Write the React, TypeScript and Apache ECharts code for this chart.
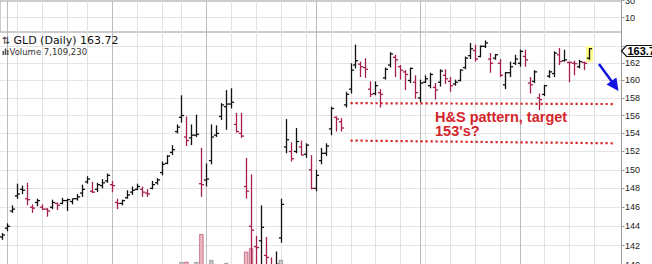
import React, { useEffect, useRef } from "react";
import * as echarts from "echarts";

// Trading days shown (31 Dec 2019 .. last bar 19 Jun 2020, plus empty future slots)
const categories = [
  "2019-12-31",
  "2020-01-02", "2020-01-03", "2020-01-06", "2020-01-07", "2020-01-08", "2020-01-09", "2020-01-10",
  "2020-01-13", "2020-01-14", "2020-01-15", "2020-01-16", "2020-01-17", "2020-01-21", "2020-01-22",
  "2020-01-23", "2020-01-24", "2020-01-27", "2020-01-28", "2020-01-29", "2020-01-30", "2020-01-31",
  "2020-02-03", "2020-02-04", "2020-02-05", "2020-02-06", "2020-02-07", "2020-02-10", "2020-02-11",
  "2020-02-12", "2020-02-13", "2020-02-14", "2020-02-18", "2020-02-19", "2020-02-20", "2020-02-21",
  "2020-02-24", "2020-02-25", "2020-02-26", "2020-02-27", "2020-02-28",
  "2020-03-02", "2020-03-03", "2020-03-04", "2020-03-05", "2020-03-06", "2020-03-09", "2020-03-10",
  "2020-03-11", "2020-03-12", "2020-03-13", "2020-03-16", "2020-03-17", "2020-03-18", "2020-03-19",
  "2020-03-20", "2020-03-23", "2020-03-24", "2020-03-25", "2020-03-26", "2020-03-27", "2020-03-30",
  "2020-03-31",
  "2020-04-01", "2020-04-02", "2020-04-03", "2020-04-06", "2020-04-07", "2020-04-08", "2020-04-09",
  "2020-04-13", "2020-04-14", "2020-04-15", "2020-04-16", "2020-04-17", "2020-04-20", "2020-04-21",
  "2020-04-22", "2020-04-23", "2020-04-24", "2020-04-27", "2020-04-28", "2020-04-29", "2020-04-30",
  "2020-05-01", "2020-05-04", "2020-05-05", "2020-05-06", "2020-05-07", "2020-05-08", "2020-05-11",
  "2020-05-12", "2020-05-13", "2020-05-14", "2020-05-15", "2020-05-18", "2020-05-19", "2020-05-20",
  "2020-05-21", "2020-05-22", "2020-05-26", "2020-05-27", "2020-05-28", "2020-05-29",
  "2020-06-01", "2020-06-02", "2020-06-03", "2020-06-04", "2020-06-05", "2020-06-08", "2020-06-09",
  "2020-06-10", "2020-06-11", "2020-06-12", "2020-06-15", "2020-06-16", "2020-06-17", "2020-06-18",
  "2020-06-19",
  "2020-06-22", "2020-06-23", "2020-06-24", "2020-06-25", "2020-06-26", "2020-06-29",
];

const opens = [
  142.9, 143.8, 145.6, 147.2, 147.9, 146.9, 146.0, 146.5, 146.0, 145.8,
  146.0, 146.4, 146.4, 146.7, 146.6, 146.9, 147.5, 148.7, 147.7, 147.9,
  148.3, 148.8, 148.4, 146.5, 146.4, 147.0, 147.6, 147.9, 147.9, 147.5,
  148.0, 148.6, 149.7, 150.7, 151.9, 154.2, 155.8, 153.6, 153.5, 153.8,
  148.5, 148.9, 151.0, 153.8, 155.9, 157.0, 157.3, 155.0, 154.0, 148.2,
  144.0, 141.9, 142.5, 141.0, 139.7, 139.2, 142.8, 152.5, 152.0, 152.0,
  152.5, 151.7, 150.0, 148.0, 151.0, 151.8, 154.5, 155.8, 155.3, 157.2,
  159.0, 161.8, 161.9, 161.5, 159.0, 158.5, 158.6, 160.3, 161.8, 162.7,
  161.6, 161.0, 160.0, 159.8, 158.0, 159.8, 159.4, 159.2, 159.8, 160.6,
  159.9, 159.6, 160.0, 161.5, 162.9, 163.5, 162.8, 164.0, 162.5, 162.6,
  162.0, 159.5, 160.9, 162.0, 162.0, 162.8, 159.7, 159.9, 158.0, 158.4,
  160.5, 160.8, 163.0, 162.3, 162.1, 162.0, 161.6, 162.1, 162.6,
];
const highs = [
  143.3, 144.3, 146.2, 148.5, 148.3, 148.6, 146.3, 146.9, 146.3, 145.9,
  146.8, 146.5, 147.0, 146.9, 146.9, 147.4, 148.4, 149.3, 148.7, 148.6,
  149.0, 149.6, 148.8, 146.9, 146.8, 147.8, 148.2, 148.5, 148.2, 147.9,
  148.8, 149.1, 150.9, 151.6, 152.7, 155.0, 158.3, 155.9, 155.0, 156.1,
  152.4, 150.7, 155.0, 154.9, 157.4, 158.9, 159.1, 156.3, 156.3, 151.3,
  149.5, 143.0, 146.2, 142.9, 140.8, 141.4, 146.9, 155.6, 153.0, 154.6,
  153.2, 152.9, 151.6, 150.0, 152.4, 152.9, 157.0, 155.9, 155.7, 158.7,
  162.0, 164.2, 162.2, 162.6, 159.9, 159.9, 159.0, 161.5, 163.3, 163.0,
  161.8, 161.2, 161.5, 160.6, 160.1, 160.6, 160.9, 159.7, 161.3, 161.3,
  160.4, 160.1, 161.3, 162.8, 164.4, 164.2, 164.1, 164.7, 163.2, 163.1,
  162.5, 161.0, 162.2, 163.0, 163.6, 163.6, 160.4, 161.2, 158.5, 159.5,
  161.2, 163.4, 163.8, 163.6, 162.2, 162.3, 162.4, 162.2, 163.8,
];
const lows = [
  142.6, 143.5, 145.4, 146.9, 147.4, 146.2, 145.4, 146.1, 145.7, 145.0,
  145.8, 145.7, 146.3, 145.6, 146.3, 146.7, 147.1, 148.5, 147.5, 147.6,
  148.0, 148.6, 147.6, 145.8, 146.2, 146.9, 147.3, 147.8, 147.1, 147.1,
  147.9, 148.4, 149.4, 150.6, 151.6, 154.0, 155.2, 152.6, 152.7, 153.6,
  147.1, 148.2, 150.6, 153.6, 155.5, 154.4, 156.8, 154.1, 153.5, 146.9,
  140.0, 139.0, 139.8, 138.8, 138.2, 138.0, 142.3, 151.8, 150.9, 151.8,
  151.6, 151.3, 147.9, 147.7, 150.6, 151.5, 153.8, 154.2, 154.2, 156.9,
  158.5, 161.4, 160.4, 160.3, 158.1, 158.3, 156.9, 160.1, 161.5, 160.4,
  160.1, 158.9, 159.7, 157.9, 157.5, 159.7, 159.1, 157.8, 159.3, 159.6,
  158.7, 159.4, 159.9, 161.3, 162.5, 162.2, 162.7, 163.8, 160.9, 162.4,
  160.4, 159.0, 160.4, 161.8, 161.6, 161.6, 158.5, 159.7, 156.6, 158.2,
  160.3, 160.4, 161.8, 162.2, 159.8, 160.6, 161.4, 161.2, 162.4,
];
const closes = [
  143.1, 144.0, 145.8, 147.4, 147.8, 146.8, 145.9, 146.7, 145.8, 145.6,
  146.5, 146.2, 146.7, 146.8, 146.9, 147.1, 147.9, 149.0, 147.6, 148.4,
  148.6, 149.4, 148.3, 146.4, 146.7, 147.3, 147.8, 148.2, 147.6, 147.4,
  148.4, 148.9, 150.6, 151.5, 152.2, 154.7, 156.0, 153.2, 153.8, 153.9,
  148.4, 149.0, 153.6, 154.0, 157.2, 157.3, 157.5, 154.2, 153.7, 147.7,
  143.6, 141.8, 143.9, 140.8, 139.9, 140.1, 146.3, 153.3, 151.2, 153.1,
  151.6, 152.7, 148.0, 149.4, 151.8, 152.6, 156.8, 155.6, 154.6, 158.4,
  161.2, 162.3, 161.6, 161.3, 158.4, 159.4, 158.4, 161.3, 163.1, 162.4,
  161.2, 160.7, 161.4, 158.6, 159.7, 160.2, 160.7, 158.9, 161.1, 160.2,
  159.4, 159.8, 161.2, 162.6, 163.7, 162.5, 164.0, 164.4, 162.0, 163.0,
  160.6, 160.9, 161.6, 162.5, 163.4, 162.4, 159.5, 161.0, 157.8, 159.4,
  161.0, 163.2, 162.2, 162.4, 162.1, 161.95, 162.2, 162.0, 163.72,
];
// volume in millions of shares
const volumes = [
  6, 8, 9, 12, 11, 13, 10, 8, 9, 8,
  7, 8, 9, 8, 7, 8, 10, 11, 9, 8,
  8, 9, 10, 11, 9, 8, 8, 9, 8, 7,
  8, 9, 12, 13, 14, 18, 25.3, 25.5, 21, 25.3,
  44, 22, 26.7, 18, 19, 24.7, 22, 20, 21, 32.2,
  34.5, 23, 22, 21, 20, 22, 26.7, 21, 19, 17,
  16, 14, 15, 13, 12, 11, 15, 13, 12, 14,
  16, 15, 13, 11, 12, 10, 11, 10, 12, 11,
  9, 10, 9, 11, 10, 9, 8, 10, 9, 8,
  9, 8, 7, 9, 11, 10, 9, 10, 11, 8,
  10, 9, 8, 9, 9, 8, 12, 10, 13, 10,
  9, 10, 9, 8, 9, 8, 7, 8, 7.11,
];

const weekStarts = [
  "2020-01-06", "2020-01-13", "2020-01-21", "2020-01-27", "2020-02-10", "2020-02-18",
  "2020-02-24", "2020-03-09", "2020-03-16", "2020-03-23", "2020-03-30", "2020-04-06",
  "2020-04-13", "2020-04-20", "2020-04-27", "2020-05-04", "2020-05-11", "2020-05-18",
  "2020-05-26", "2020-06-08", "2020-06-15", "2020-06-22",
];
const monthStarts = ["2020-01-02", "2020-02-03", "2020-03-02", "2020-04-01", "2020-05-01", "2020-06-01"];

const priceLabels = [140, 142, 144, 146, 148, 150, 152, 154, 156, 158, 160, 162];
const priceGridValues = [140, 142, 144, 146, 148, 150, 152, 154, 156, 158, 160, 162, 164];
const upperLabels = [10];
const upperTopLabel = "30";

const necklineStart = "2020-04-13";
const necklineEnd = "2020-06-26";
const necklinePrices = [157.4, 157.3];
const targetPrices = [153.2, 152.9];

const headerTitle = "GLD (Daily) 163.72";
const headerVolume = "Volume 7,109,230";
const lastPriceTag = "163.72";
const noteLine1 = "H&S pattern, target";
const noteLine2 = "153's?";

const UP = "#111111";
const DOWN = "#a51f50";

export default function App() {
  const ref = useRef<HTMLDivElement>(null);

  useEffect(() => {
    const chart = echarts.init(ref.current as HTMLDivElement, null, { renderer: "svg" });
    const n = opens.length;
    const lastIndex = n - 1;
    const dirs = closes.map((c, i) => (i === 0 || c > closes[i - 1] ? 1 : 0));
    const ohlcData = opens.map((o, i) => [i, o, highs[i], lows[i], closes[i], dirs[i]]);
    const volData = volumes.map((v, i) => ({
      value: v,
      itemStyle: dirs[i]
        ? { color: "#c9c9c9", borderColor: "#8e8e8e" }
        : { color: "#eab9c2", borderColor: "#c25a76" },
    }));
    const weekIdx = weekStarts.map((d) => categories.indexOf(d));
    const monthIdx = monthStarts.map((d) => categories.indexOf(d));

    const vline = (color: string) => (params: any, api: any) => {
      const p = api.coord([api.value(0), api.value(1)]);
      const cs = params.coordSys;
      const x = Math.round(p[0]) + 0.5;
      return {
        type: "line",
        shape: { x1: x, y1: cs.y, x2: x, y2: cs.y + cs.height },
        style: { stroke: color, lineWidth: 1 },
      };
    };

    const renderOHLC = (params: any, api: any) => {
      const i = api.value(0);
      const pO = api.coord([i, api.value(1)]);
      const pH = api.coord([i, api.value(2)]);
      const pL = api.coord([i, api.value(3)]);
      const pC = api.coord([i, api.value(4)]);
      const color = api.value(5) === 1 ? UP : DOWN;
      const x = Math.round(pH[0]) + 0.5;
      const style = { stroke: color, lineWidth: 1.3 };
      const children: any[] = [];
      if (i === lastIndex) {
        children.push({
          type: "rect",
          shape: { x: x - 3.5, y: pH[1] - 2, width: 7, height: pL[1] - pH[1] + 4 },
          style: { fill: "#ffff8c" },
        });
      }
      children.push({ type: "line", shape: { x1: x, y1: pH[1], x2: x, y2: pL[1] }, style });
      children.push({ type: "line", shape: { x1: x - 2.6, y1: pO[1], x2: x, y2: pO[1] }, style });
      children.push({ type: "line", shape: { x1: x, y1: pC[1], x2: x + 2.6, y2: pC[1] }, style });
      return { type: "group", children };
    };

    const gridLeft = -3;
    const gridRight = 30.5;
    const labelFont = { color: "#222", fontSize: 9, fontFamily: "Liberation Sans" };

    const option: any = {
      animation: false,
      backgroundColor: "#ffffff",
      grid: [
        { left: gridLeft, right: gridRight, top: 29.54, bottom: 4.6 },
        { left: gridLeft, right: gridRight, top: 150, bottom: 10 },
        { left: gridLeft, right: gridRight, top: 1, height: 31, show: true, borderColor: "#9a9a9a", borderWidth: 1, backgroundColor: "transparent" },
      ],
      xAxis: [0, 1, 2].map((g) => ({
        type: "category",
        gridIndex: g,
        data: categories,
        boundaryGap: true,
        show: false,
      })),
      yAxis: [
        {
          type: "log",
          logBase: 10,
          gridIndex: 0,
          min: 136,
          max: 166,
          position: "right",
          axisLine: { show: true, lineStyle: { color: "#9a9a9a" } },
          axisTick: { show: true, length: 3, customValues: priceGridValues, lineStyle: { color: "#9a9a9a" } },
          axisLabel: { ...labelFont, margin: 3.5, customValues: priceLabels, formatter: (v: number) => String(Math.round(v)) },
          splitLine: { show: true, lineStyle: { color: "#e4e4e4", width: 1 } },
        },
        { type: "value", gridIndex: 1, min: 0, max: 100, show: false },
        {
          type: "value",
          gridIndex: 2,
          min: -8,
          max: 31,
          position: "right",
          axisLine: { show: true, lineStyle: { color: "#9a9a9a" } },
          axisTick: { show: true, length: 3, customValues: upperLabels, lineStyle: { color: "#9a9a9a" } },
          axisLabel: { ...labelFont, margin: 3.5, customValues: upperLabels },
          splitLine: { show: true, lineStyle: { color: "#e4e4e4" } },
        },
      ],
      series: [
        { type: "custom", xAxisIndex: 0, yAxisIndex: 0, z: 1, silent: true, renderItem: vline("#e2e2e2"), data: weekIdx.map((i) => [i, 150]) },
        { type: "custom", xAxisIndex: 0, yAxisIndex: 0, z: 1, silent: true, renderItem: vline("#bcbcbc"), data: monthIdx.map((i) => [i, 150]) },
        { type: "custom", xAxisIndex: 2, yAxisIndex: 2, z: 1, silent: true, renderItem: vline("#e2e2e2"), data: weekIdx.map((i) => [i, 0]) },
        { type: "custom", xAxisIndex: 2, yAxisIndex: 2, z: 1, silent: true, renderItem: vline("#bcbcbc"), data: monthIdx.map((i) => [i, 0]) },
        {
          type: "bar",
          xAxisIndex: 1,
          yAxisIndex: 1,
          z: 2,
          silent: true,
          barWidth: 4.3,
          itemStyle: { borderWidth: 0.8 },
          data: volData,
        },
        {
          type: "custom",
          xAxisIndex: 0,
          yAxisIndex: 0,
          z: 3,
          silent: true,
          renderItem: renderOHLC,
          data: ohlcData,
          markLine: {
            silent: true,
            symbol: ["none", "none"],
            label: { show: false },
            lineStyle: { color: "#d42424", width: 2.2, type: [2.2, 2.8], cap: "butt" },
            data: [
              [{ coord: [necklineStart, necklinePrices[0]] }, { coord: [necklineEnd, necklinePrices[1]] }],
              [{ coord: [necklineStart, targetPrices[0]] }, { coord: [necklineEnd, targetPrices[1]] }],
            ],
          },
        },
      ],
      graphic: [
        { type: "line", z: 100, shape: { x1: 621.5, y1: 0.5, x2: 624.5, y2: 0.5 }, style: { stroke: "#9a9a9a", lineWidth: 1 } },
        { type: "text", x: 625, y: 0.5, z: 100, style: { text: upperTopLabel, font: '9px "Liberation Sans"', fill: "#222", verticalAlign: "middle" } },
        { type: "text", x: 2, y: 40.5, z: 100, style: { text: "⇅", font: '10px "DejaVu Sans"', fill: "#333", verticalAlign: "middle" } },
        { type: "text", x: 13.5, y: 40.5, z: 100, style: { text: headerTitle, font: '11px "DejaVu Sans"', fill: "#111", verticalAlign: "middle" } },
        { type: "rect", z: 100, shape: { x: 2.5, y: 51, width: 1.6, height: 4 }, style: { fill: "#555" } },
        { type: "rect", z: 100, shape: { x: 4.7, y: 48.5, width: 1.6, height: 6.5 }, style: { fill: "#555" } },
        { type: "rect", z: 100, shape: { x: 6.9, y: 50, width: 1.6, height: 5 }, style: { fill: "#555" } },
        { type: "text", x: 9.5, y: 51.5, z: 100, style: { text: headerVolume, font: '8.5px "DejaVu Sans"', fill: "#333", verticalAlign: "middle" } },
        { type: "text", x: 435, y: 116.7, z: 100, style: { text: noteLine1, font: 'bold 14.5px "Liberation Sans"', fill: "#d4252b", verticalAlign: "middle" } },
        { type: "text", x: 435, y: 131.2, z: 100, style: { text: noteLine2, font: 'bold 14.5px "Liberation Sans"', fill: "#d4252b", verticalAlign: "middle" } },
        { type: "line", z: 100, shape: { x1: 599, y1: 64, x2: 612.5, y2: 82.5 }, style: { stroke: "#1414e0", lineWidth: 2.5 } },
        { type: "polygon", z: 100, shape: { points: [[618.5, 91], [606.5, 84.6], [616.4, 77.6]] }, style: { fill: "#1414e0" } },
        { type: "polygon", z: 100, shape: { points: [[621.5, 51], [626.5, 45.5], [662, 45.5], [662, 56.5], [626.5, 56.5]] }, style: { fill: "#ffffff", stroke: "#111", lineWidth: 1.2 } },
        { type: "text", x: 627.5, y: 51.2, z: 101, style: { text: lastPriceTag, font: 'bold 11px "Liberation Sans"', fill: "#000", verticalAlign: "middle" } },
      ],
    };

    chart.setOption(option);
    return () => chart.dispose();
  }, []);

  return (
    <div style={{ position: "fixed", left: 0, top: 0, width: 652, height: 264, overflow: "hidden", background: "#fff" }}>
      <div ref={ref} style={{ width: 652, height: 310 }} />
    </div>
  );
}
